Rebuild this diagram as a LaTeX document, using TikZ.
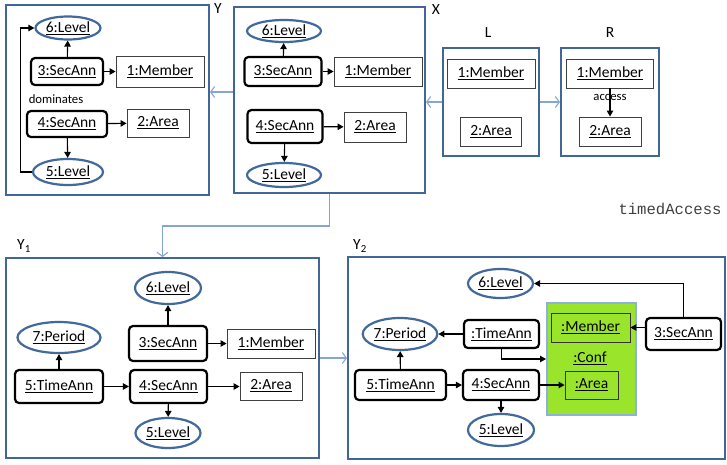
\documentclass[tikz,border=0pt]{standalone}
\usepackage{fontspec}
\setmainfont{Carlito}
\setmonofont{Liberation Mono}
\usetikzlibrary{arrows.meta,shapes.geometric}
\definecolor{frameblue}{HTML}{41679A}
\definecolor{ellblue}{HTML}{41699C}
\definecolor{linkblue}{HTML}{86A6D2}
\definecolor{confgreen}{HTML}{9BE42C}
\definecolor{confborder}{HTML}{8DB0DC}
\tikzset{
  every node/.style={font=\fontsize{15.5}{18}\selectfont, inner sep=0pt},
  frame/.style={draw=frameblue, line width=2pt, fill=none},
  sec/.style={draw=black, line width=2.2pt, rounded corners=4pt, fill=white},
  obj/.style={draw=black!75, line width=0.9pt, fill=white},
  lvl/.style={ellipse, draw=ellblue, line width=2.2pt, fill=white},
  arr/.style={draw=black, line width=1.1pt, -{Triangle[length=6pt,width=6.5pt]}},
  link/.style={draw=linkblue, line width=1.1pt, -{Straight Barb[length=4pt,width=11pt]}},
  small/.style={font=\fontsize{12.7}{15}\selectfont},
  ttl/.style={font=\fontsize{15.5}{18}\selectfont}
}
\newcommand{\ul}[1]{\underline{#1}}
\begin{document}
\begin{tikzpicture}[x=1pt,y=-1pt]
\useasboundingbox (0,0) rectangle (727,464);
% ---------- frames ----------
\node[frame, minimum width=203, minimum height=190] (Y) at (107.5,100) {};
\node[frame, minimum width=191, minimum height=186] (X) at (329.5,100) {};
\node[frame, minimum width=96, minimum height=108] (L) at (491,102) {};
\node[frame, minimum width=98, minimum height=108] (R) at (610,102) {};
\node[frame, minimum width=313, minimum height=200] (Y1) at (162.5,358) {};
\node[frame, minimum width=377, minimum height=202] (Y2) at (536.5,358) {};
% frame labels
\node[ttl] (tY) at (218,9) {Y};
\node[ttl] (tX) at (436,10) {X};
\node[ttl] (tL) at (488,33) {L};
\node[ttl] (tR) at (610,33) {R};
\node[ttl] (tY1) at (24,246) {Y\textsubscript{1}};
\node[ttl] (tY2) at (360,246) {Y\textsubscript{2}};
\node[font=\ttfamily\fontsize{15.6}{18}\selectfont, text=black!75] (ta) at (670,209) {timedAccess};
% ---------- Y ----------
\node[lvl, minimum width=65, minimum height=23] (y6) at (68,28) {\ul{6:Level}};
\node[sec, minimum width=72, minimum height=27] (y3) at (67,71.5) {\ul{3:SecAnn}};
\node[obj, minimum width=88, minimum height=31] (y1) at (160,71.5) {\ul{1:Member}};
\node[small] (ydom) at (56,99) {dominates};
\node[sec, minimum width=80, minimum height=26] (y4) at (67,124) {\ul{4:SecAnn}};
\node[obj, minimum width=62, minimum height=28] (y2) at (158,123) {\ul{2:Area}};
\node[lvl, minimum width=70, minimum height=26] (y5) at (68,172) {\ul{5:Level}};
\coordinate (yc) at (20.5,172);
\draw[arr] (y3) -- (y6);
\draw[arr] (y3) -- (y1);
\draw[arr] (y4) -- (y2);
\draw[arr] (y4) -- (y5);
\draw[arr] (y5.west) -- (yc) |- (y6.west);
% ---------- X ----------
\node[lvl, minimum width=74, minimum height=22] (x6) at (284,31) {\ul{6:Level}};
\node[sec, minimum width=77, minimum height=29] (x3) at (283,71.5) {\ul{3:SecAnn}};
\node[obj, minimum width=88, minimum height=29] (x1) at (378,71.5) {\ul{1:Member}};
\node[sec, minimum width=75, minimum height=33] (x4) at (285,126.5) {\ul{4:SecAnn}};
\node[obj, minimum width=62, minimum height=30] (x2) at (375,127) {\ul{2:Area}};
\node[lvl, minimum width=74, minimum height=24] (x5) at (284,175) {\ul{5:Level}};
\draw[arr] (x3) -- (x6);
\draw[arr] (x3) -- (x1);
\draw[arr] (x4) -- (x2);
\draw[arr] (x4) -- (x5);
% ---------- L, R ----------
\node[obj, minimum width=88, minimum height=29] (l1) at (491,73.5) {\ul{1:Member}};
\node[obj, minimum width=61, minimum height=29] (l2) at (491,131.5) {\ul{2:Area}};
\node[obj, minimum width=87, minimum height=29] (r1) at (610,73.5) {\ul{1:Member}};
\node[obj, minimum width=62, minimum height=29] (r2) at (610,131.5) {\ul{2:Area}};
\draw[arr] (r1) -- node[small, pos=0.33] (racc) {access} (r2);
% ---------- Y1 ----------
\node[lvl, minimum width=66, minimum height=32] (a6) at (168,288) {\ul{6:Level}};
\node[sec, minimum width=78, minimum height=35] (a3) at (168,343.5) {\ul{3:SecAnn}};
\node[obj, minimum width=88, minimum height=29] (a1) at (271,343.5) {\ul{1:Member}};
\node[lvl, minimum width=83, minimum height=31] (a7) at (59,337.5) {\ul{7:Period}};
\node[sec, minimum width=88, minimum height=33] (a5t) at (59,386.5) {\ul{5:TimeAnn}};
\node[sec, minimum width=77, minimum height=33] (a4) at (168.5,386.5) {\ul{4:SecAnn}};
\node[obj, minimum width=62, minimum height=28] (a2) at (271,386) {\ul{2:Area}};
\node[lvl, minimum width=65, minimum height=30] (a5) at (168,433) {\ul{5:Level}};
\draw[arr] (a3) -- (a6);
\draw[arr] (a3) -- (a1);
\draw[arr] (a5t) -- (a7);
\draw[arr] (a5t) -- (a4);
\draw[arr] (a4.east) -- (a2.west |- a4.east);
\draw[arr] (a4) -- (a5);
% ---------- Y2 ----------
\node[lvl, minimum width=65, minimum height=29] (b6) at (500.5,283.5) {\ul{6:Level}};
\node[draw=confborder, line width=2pt, fill=confgreen, minimum width=89, minimum height=112] (conf) at (591.5,359) {};
\node[draw=black!80, line width=0.9pt, minimum width=79, minimum height=29] (bm) at (590.5,327.5) {\ul{:Member}};
\node (conft) at (590,358) {\ul{:Conf}};
\node[draw=black!80, line width=0.9pt, minimum width=53, minimum height=28] (ba) at (591.5,385) {\ul{:Area}};
\node[sec, minimum width=75, minimum height=32] (b3) at (683.5,334) {\ul{3:SecAnn}};
\node[sec, minimum width=75, minimum height=28] (bt) at (501.5,334) {\ul{:TimeAnn}};
\node[lvl, minimum width=74, minimum height=32] (b7) at (400,334) {\ul{7:Period}};
\node[sec, minimum width=91, minimum height=30] (b5t) at (400.5,385) {\ul{5:TimeAnn}};
\node[sec, minimum width=76, minimum height=30] (b4) at (501,385) {\ul{4:SecAnn}};
\node[lvl, minimum width=66, minimum height=32] (b5) at (501,430) {\ul{5:Level}};
\draw[arr] (b3.north) |- (b6.east);
\draw[arr] (b3.west |- bm.east) -- (bm.east);
\draw[arr] (bt.west) -- (b7.east);
\draw[arr] (bt.south) |- (conf.west);
\draw[arr] (b5t) -- (b7);
\draw[arr] (b5t) -- (b4);
\draw[arr] (b4.east) -- (ba.west);
\draw[arr] (b4) -- (b5);
% ---------- frame links ----------
\draw[link] ([yshift=8pt]X.west) -- ([yshift=8pt]Y.east);
\draw[link] (L.west) -- (L.west -| X.east);
\draw[link] (L.east) -- (R.west);
\draw[link] (X.south) -- ++(0,32) -| (Y1.north);
\draw[link] (Y1.east) -- (Y2.west);
\end{tikzpicture}
\end{document}
